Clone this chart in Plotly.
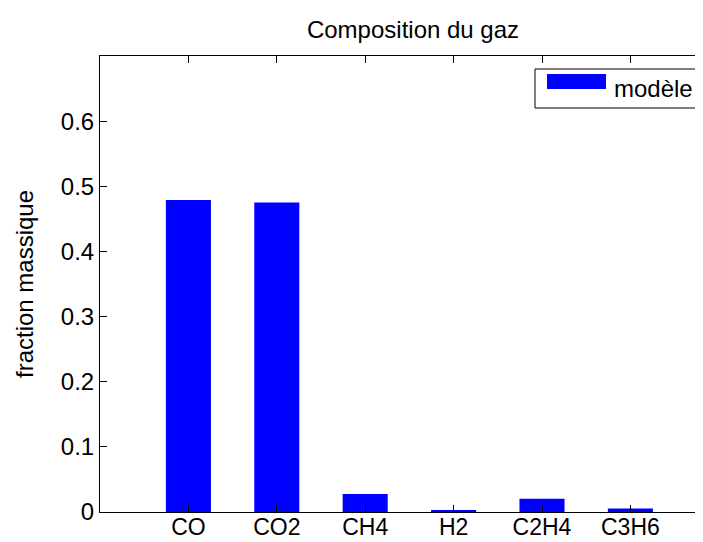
import plotly.graph_objects as go

categories = ["CO", "CO2", "CH4", "H2", "C2H4", "C3H6"]
fractions = [0.479, 0.475, 0.0276, 0.0026, 0.0205, 0.0052]
y_ticks = [0, 0.1, 0.2, 0.3, 0.4, 0.5, 0.6]
y_ticklabels = ["0", "0.1", "0.2", "0.3", "0.4", "0.5", "0.6"]
series_name = "modèle"
title_text = "Composition du gaz"
y_title = "fraction massique"

positions = list(range(1, len(categories) + 1))

FONT = "Liberation Sans, Arial, sans-serif"
BLUE = "#0000ff"

fig = go.Figure()
fig.add_trace(go.Bar(
    x=positions, y=fractions, width=0.51, name=series_name,
    marker=dict(color=BLUE, line=dict(width=0)), showlegend=False,
))

W, H = 703, 542
L, T, B = 92, 48, 38
pw = W - L
ph = H - T - B

def px_x(v):
    return (v - L) / pw

def px_y(v):
    return (H - B - v) / ph

fig.update_layout(
    width=W, height=H,
    margin=dict(l=L, r=0, t=T, b=B, pad=0),
    paper_bgcolor="white", plot_bgcolor="white",
    font=dict(family=FONT, size=24, color="black"),
    title=dict(text=title_text, x=405 / W, xref="container", xanchor="center",
               y=1 - 22 / H, yref="container", yanchor="middle",
               font=dict(family=FONT, size=24, color="black")),
    xaxis=dict(range=[0, pw / 88.4], tickvals=positions, ticktext=categories,
               ticks="inside", ticklen=7, tickcolor="black", tickwidth=1,
               showline=True, linecolor="black", linewidth=1, mirror="ticks",
               showgrid=False, zeroline=False, fixedrange=True,
               ticklabelstandoff=-6,
               tickfont=dict(family=FONT, size=23)),
    yaxis=dict(range=[0, 0.7], tickvals=y_ticks, ticktext=y_ticklabels,
               ticks="inside", ticklen=7, tickcolor="black", tickwidth=1,
               showline=True, linecolor="black", linewidth=1, mirror="ticks",
               showgrid=False, zeroline=False, fixedrange=True,
               tickfont=dict(family=FONT, size=24),
               title=dict(text=y_title, standoff=20, font=dict(family=FONT, size=24))),
    showlegend=False,
)

# legend box drawn in the style of the original
fig.add_shape(type="rect", xref="paper", yref="paper",
              x0=px_x(527), x1=px_x(694), y0=px_y(100), y1=px_y(61),
              line=dict(color="black", width=1), fillcolor="white", layer="above")
fig.add_shape(type="rect", xref="paper", yref="paper",
              x0=px_x(539), x1=px_x(598), y0=px_y(81), y1=px_y(66),
              line=dict(width=0), fillcolor=BLUE, layer="above")
fig.add_annotation(text=series_name, xref="paper", yref="paper",
                   x=px_x(604), y=px_y(80), xanchor="left", yanchor="middle",
                   showarrow=False, font=dict(family=FONT, size=24, color="black"))

fig.write_html("out.html")
